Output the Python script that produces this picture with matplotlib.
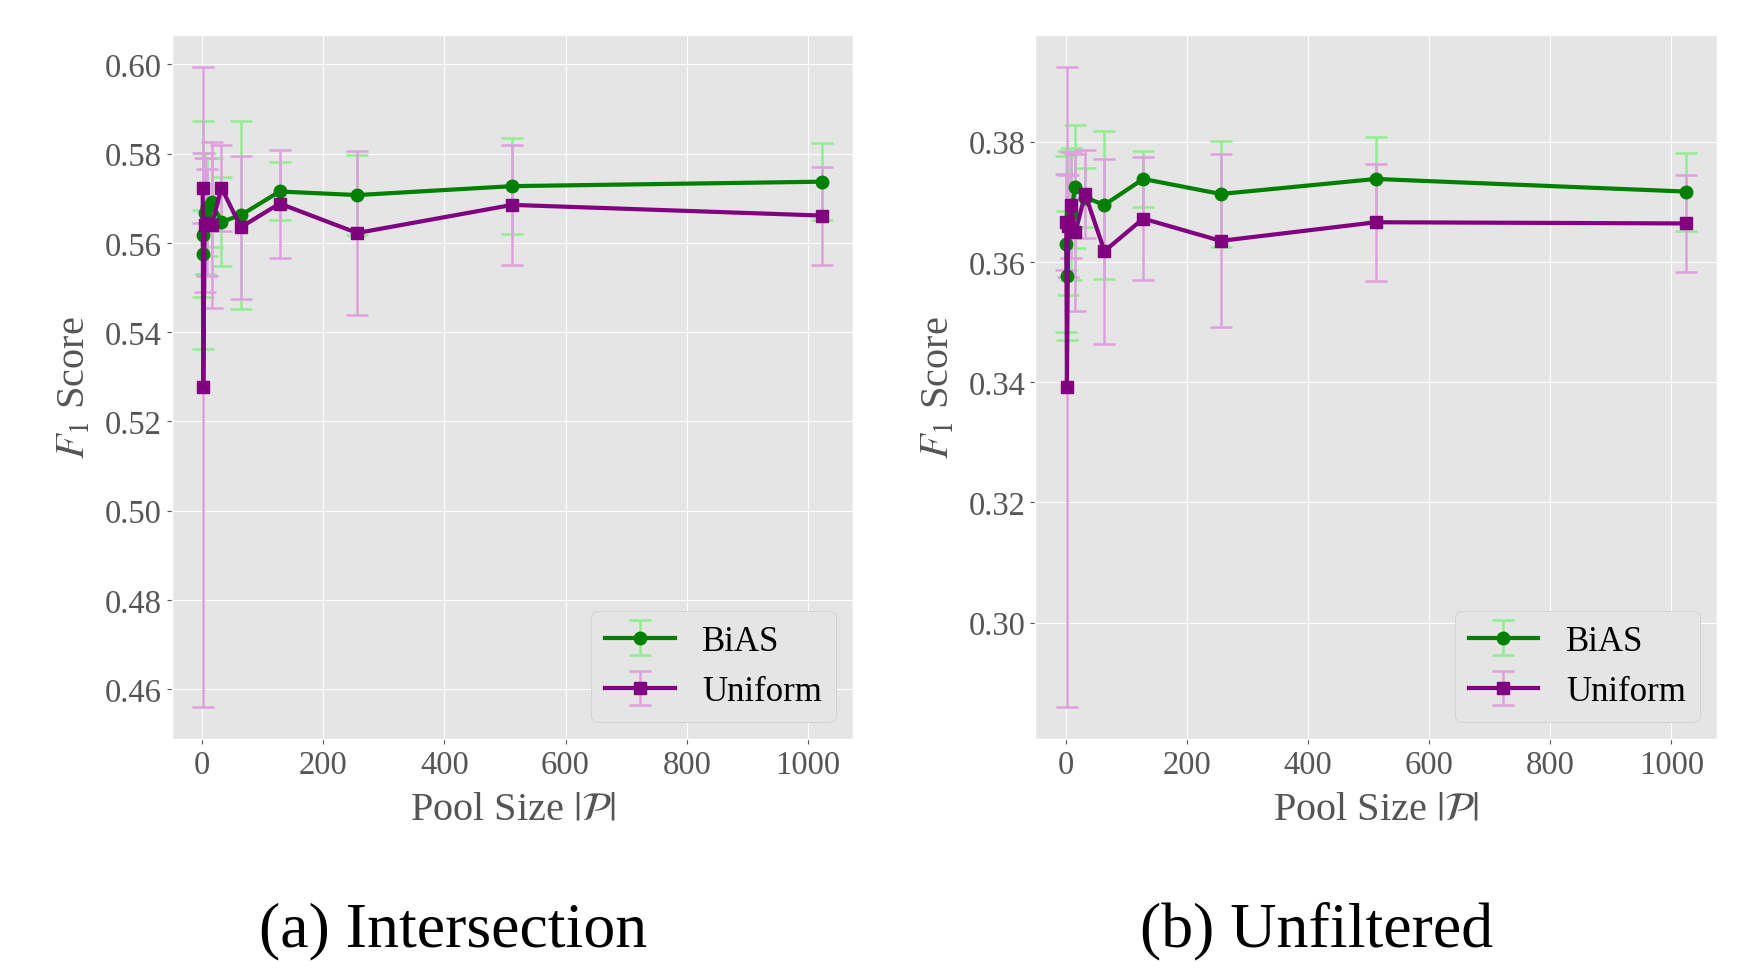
import matplotlib
matplotlib.use("Agg")
import matplotlib.pyplot as plt

pool_sizes = [1, 2, 4, 8, 16, 32, 64, 128, 256, 512, 1024]

# (a) Intersection
bias_a = [0.5617, 0.5576, 0.5666, 0.5680, 0.5691, 0.5647, 0.5662, 0.5715, 0.5707, 0.5727, 0.5737]
bias_a_err = [0.0256, 0.0098, 0.0135, 0.011, 0.010, 0.010, 0.021, 0.0065, 0.009, 0.0108, 0.0087]
unif_a = [0.5723, 0.5277, 0.5640, 0.5645, 0.5640, 0.5723, 0.5635, 0.5688, 0.5622, 0.5685, 0.5661]
unif_a_err = [0.0078, 0.0718, 0.015, 0.012, 0.0185, 0.0097, 0.016, 0.0121, 0.0183, 0.0135, 0.011]

# (b) Unfiltered
bias_b = [0.3630, 0.3577, 0.3665, 0.3680, 0.3725, 0.3707, 0.3695, 0.3738, 0.3713, 0.3738, 0.3717]
bias_b_err = [0.0147, 0.0107, 0.012, 0.011, 0.0102, 0.0049, 0.0123, 0.0046, 0.0088, 0.007, 0.0065]
unif_b = [0.3667, 0.3392, 0.3660, 0.3695, 0.3649, 0.3713, 0.3618, 0.3672, 0.3635, 0.3666, 0.3664]
unif_b_err = [0.008, 0.0533, 0.0085, 0.0088, 0.013, 0.0073, 0.0154, 0.0102, 0.0144, 0.0097, 0.0081]

captions = ["(a) Intersection", "(b) Unfiltered"]
y_ticks = [[0.46, 0.48, 0.50, 0.52, 0.54, 0.56, 0.58, 0.60],
           [0.30, 0.32, 0.34, 0.36, 0.38]]

plt.style.use("ggplot")
plt.rcParams["font.family"] = ["Liberation Serif", "DejaVu Serif"]
plt.rcParams["mathtext.fontset"] = "stix"

fig = plt.figure(figsize=(17.38, 9.70), dpi=100)
ax_a = fig.add_axes([0.0988, 0.2367, 0.3922, 0.7267])
ax_b = fig.add_axes([0.5957, 0.2367, 0.3922, 0.7267])

panels = [
    (ax_a, bias_a, bias_a_err, unif_a, unif_a_err),
    (ax_b, bias_b, bias_b_err, unif_b, unif_b_err),
]

for i, (ax, b, be, u, ue) in enumerate(panels):
    ax.errorbar(pool_sizes, b, yerr=be, color="green", ecolor="lightgreen",
                marker="o", markersize=9, lw=3, elinewidth=1.8, capsize=8,
                capthick=1.8, label="BiAS")
    ax.errorbar(pool_sizes, u, yerr=ue, color="purple", ecolor="plum",
                marker="s", markersize=9, lw=3, elinewidth=1.8, capsize=8,
                capthick=1.8, label="Uniform")
    ax.set_xticks([0, 200, 400, 600, 800, 1000])
    ax.set_yticks(y_ticks[i])
    ax.set_yticklabels([f"{t:.2f}" for t in y_ticks[i]])
    ax.tick_params(labelsize=23.5, colors="#555555")
    ax.set_xlabel(r"Pool Size $|\mathcal{P}|$", fontsize=29, color="#555555",
                  labelpad=8)
    ax.set_ylabel(r"$F_1$ Score", fontsize=29, color="#555555", labelpad=8)
    ax.legend(loc="lower right", fontsize=25, facecolor="#e5e5e5",
              edgecolor="#cccccc", framealpha=1.0)
    # caption below the panel
    x0 = ax.get_position().x0 + ax.get_position().width / 2 - 0.034
    fig.text(x0, 0.04, captions[i], fontsize=46, ha="center", va="center",
             color="black")

fig.savefig("out.png", dpi=100)
